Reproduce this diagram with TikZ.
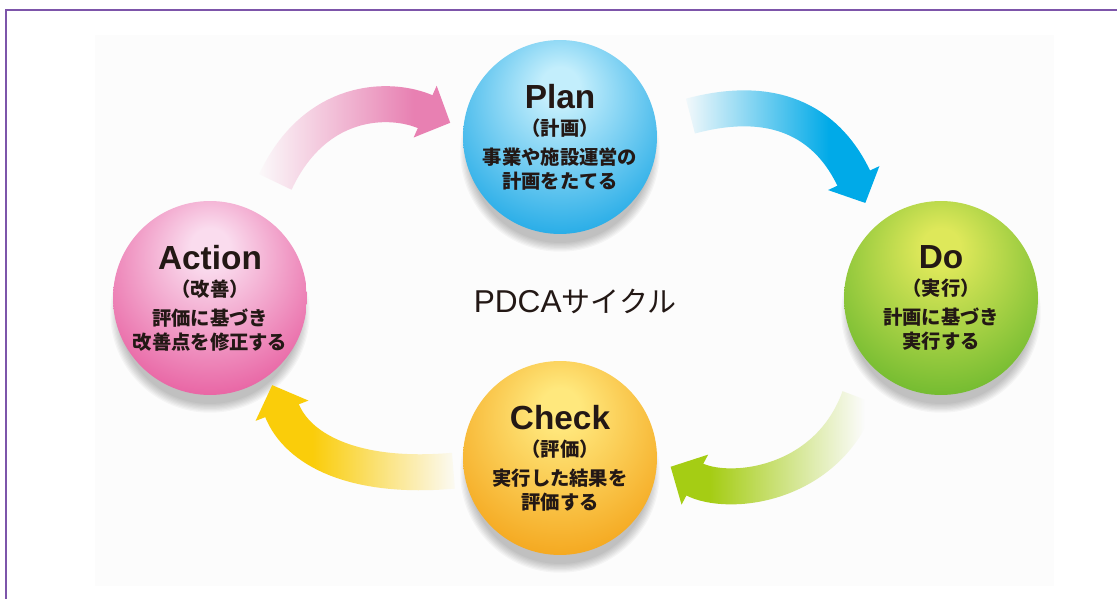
\documentclass[tikz,border=0pt]{standalone}
\usepackage{fontspec}
\newfontfamily\jpfont{Noto Sans CJK JP}
\newfontfamily\headfont{Liberation Sans}
\usetikzlibrary{arrows.meta,fadings,backgrounds}

\definecolor{ink}{RGB}{35,24,21}
\definecolor{framecol}{RGB}{125,85,170}
\definecolor{paper}{RGB}{252,252,252}
\definecolor{planhi}{RGB}{195,238,252}
\definecolor{planlo}{RGB}{0,156,226}
\definecolor{dohi}{RGB}{222,232,90}
\definecolor{dolo}{RGB}{88,176,38}
\definecolor{checkhi}{RGB}{255,232,125}
\definecolor{checklo}{RGB}{242,152,8}
\definecolor{acthi}{RGB}{250,220,238}
\definecolor{actlo}{RGB}{228,70,145}
\definecolor{pinkflow}{RGB}{232,128,178}
\definecolor{blueflow}{RGB}{0,170,232}
\definecolor{greenflow}{RGB}{165,205,20}
\definecolor{yellowflow}{RGB}{250,205,10}

\pgfdeclareradialshading{planball}{\pgfpoint{0bp}{14bp}}{color(0bp)=(planhi); color(5bp)=(planhi); color(40bp)=(planlo); color(70bp)=(planlo)}
\pgfdeclareradialshading{doball}{\pgfpoint{0bp}{14bp}}{color(0bp)=(dohi); color(5bp)=(dohi); color(40bp)=(dolo); color(70bp)=(dolo)}
\pgfdeclareradialshading{checkball}{\pgfpoint{0bp}{14bp}}{color(0bp)=(checkhi); color(5bp)=(checkhi); color(40bp)=(checklo); color(70bp)=(checklo)}
\pgfdeclareradialshading{actball}{\pgfpoint{0bp}{14bp}}{color(0bp)=(acthi); color(5bp)=(acthi); color(40bp)=(actlo); color(70bp)=(actlo)}

\tikzfading[name=fade west, left color=transparent!100, right color=transparent!0]
\tikzfading[name=fade east, left color=transparent!0, right color=transparent!100]

\newcommand\stagename[1]{{\headfont\bfseries\fontsize{19}{19}\selectfont #1}}

\tikzset{
  ball/.style={circle, inner sep=0pt, minimum size=3.88cm, shade, align=center, text=ink,
    font=\jpfont\bfseries\fontsize{11}{13.5}\selectfont},
  flow/.style={line width=0.72cm, -{Triangle[width=1.1cm,length=0.55cm]}, fit fading=false},
}

\begin{document}
\begin{tikzpicture}[x=0.02cm, y=0.02cm]
\useasboundingbox (0,0) rectangle (1117,599);
\draw[framecol, line width=0.04cm] (6,0) -- (6,589) -- (1117,589);

\node[ball, shading=planball] (plan) at (560,462) {\stagename{Plan}\\[2pt]（計画）\\[3pt]事業や施設運営の\\計画をたてる};
\node[ball, shading=doball] (do) at (941,301) {\stagename{Do}\\[2pt]（実行）\\[3pt]計画に基づき\\実行する};
\node[ball, shading=checkball] (check) at (560,141) {\stagename{Check}\\[2pt]（評価）\\[3pt]実行した結果を\\評価する};
\node[ball, shading=actball] (action) at (210,301) {\stagename{Action}\\[2pt]（改善）\\[3pt]評価に基づき\\改善点を修正する};

\node[text=ink, font=\jpfont\fontsize{16.5}{16.5}\selectfont] (cycle) at (575,298) {{\headfont\fontsize{18}{18}\selectfont PDCA}サイクル};

% soft shadows under the balls
\begin{scope}[on background layer]
\fill[paper] (95,13) rectangle (1054,564);
\foreach \n in {plan,do,check,action}
  \foreach \k in {0,...,7}
    \fill[black, opacity=0.03] ([yshift=-0.3cm]\n.center) circle[radius=1.82cm+\k*0.025cm];
\end{scope}

% cycle arrows
\draw[flow, draw=pinkflow, path fading=fade west, fading transform={shift={(335,445)}, xscale=1.81, yscale=2}, shorten <=0.72cm, shorten >=0.28cm]
  (action.59) to[out=65, in=156, out looseness=1.5, in looseness=0.93] (plan.175);
\draw[flow, draw=blueflow, path fading=fade west, fading transform={shift={(755,440)}, xscale=1.7, yscale=2}, shorten <=0.7cm, shorten >=0.5cm]
  (plan.7) to[out=15, in=115, out looseness=1.36, in looseness=1.15] (do.132);
\draw[flow, draw=greenflow, path fading=fade east, fading transform={shift={(787,170)}, xscale=1.76, yscale=2}, shorten <=0.68cm, shorten >=0.3cm]
  (do.224) to[out=250, in=332, out looseness=1.42, in looseness=0.87] (check.359);
\draw[flow, draw=yellowflow, path fading=fade east, fading transform={shift={(386,160)}, xscale=1.68, yscale=2}, shorten <=0.2cm, shorten >=0.2cm]
  (check.187) to[out=185, in=291, out looseness=1.3, in looseness=0.94] (action.307);
\end{tikzpicture}
\end{document}
